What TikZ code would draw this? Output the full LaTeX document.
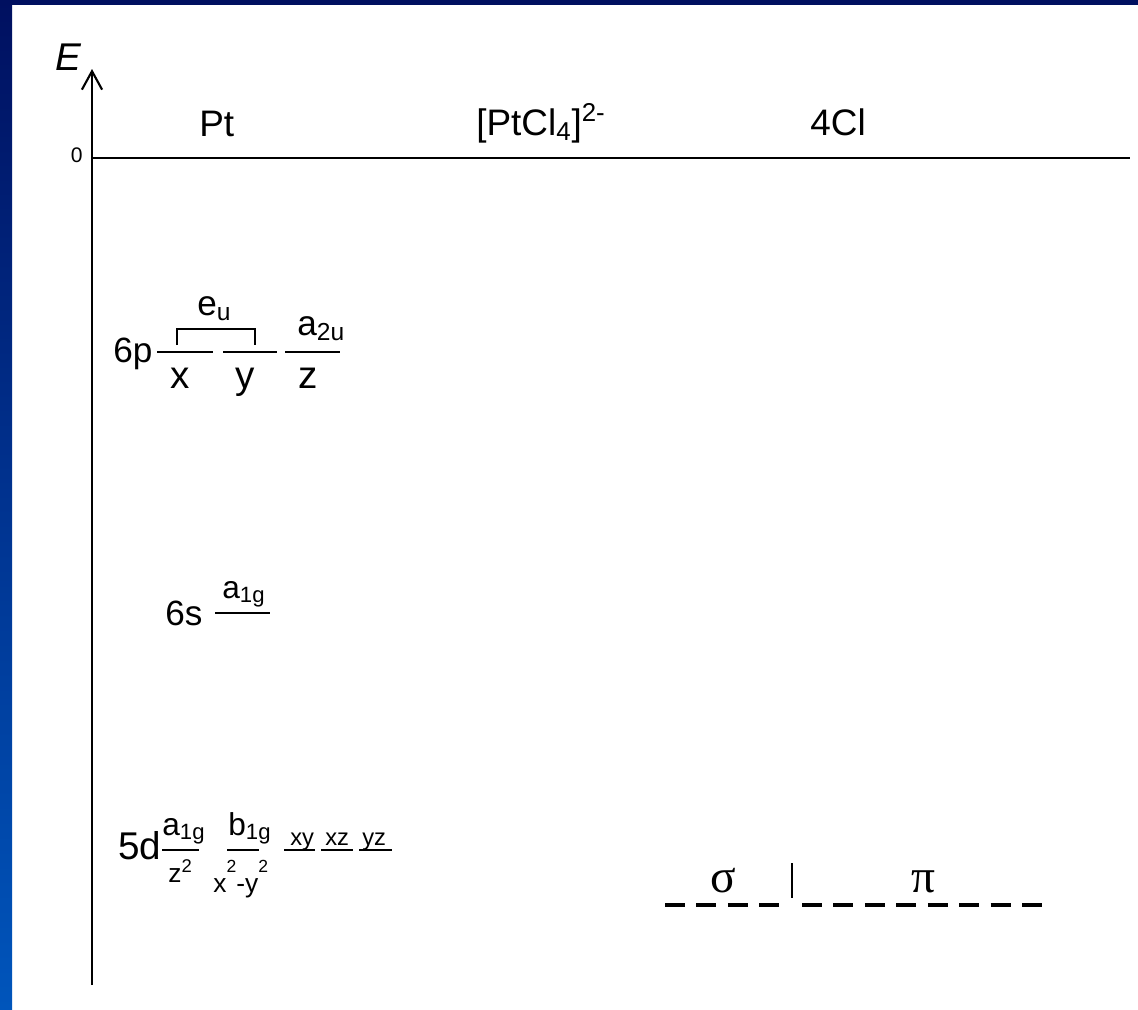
\documentclass[tikz,border=0pt]{standalone}
\usepackage{fontspec}
\setmainfont{Liberation Sans}
\newfontfamily\greekfont{Liberation Serif}
\usetikzlibrary{arrows.meta}
\definecolor{navy}{RGB}{0,16,96}
\definecolor{midblue}{RGB}{0,51,144}
\definecolor{lowblue}{RGB}{0,85,187}

\begin{document}
\begin{tikzpicture}[x=0.02cm, y=-0.02cm, every node/.style={inner sep=0pt, anchor=base west, font=\fontsize{20}{24}\selectfont},
  level/.style={line width=1.4pt},
  orb/.style={font=\fontsize{15}{17}\selectfont},
  small/.style={font=\fontsize{13.5}{16}\selectfont}]
  % Frame: white slide with blue edges
  \useasboundingbox (0,0) rectangle (1138,1009);
  \fill[white] (0,0) rectangle (1138,1009);
  \fill[navy] (0,0) rectangle (1138,5);
  \shade[top color=navy, bottom color=lowblue, middle color=midblue] (0,0) rectangle (12,1009);

  % Energy axis and zero line
  \coordinate (axisbot) at (92,985);
  \coordinate (axistop) at (92,69);
  \coordinate (zeroL) at (92,158);
  \coordinate (zeroR) at (1130,158);
  \draw[line width=1.2pt, -{Straight Barb[length=10.5pt, width=11.5pt]}] (axisbot) -- (axistop);
  \draw[line width=1.2pt] (zeroL) -- (zeroR);
  \node[font=\fontsize{22}{26}\selectfont\itshape] (E) at (55,70) {E};
  \node[anchor=base east, font=\fontsize{12}{14}\selectfont] (zero) at (83,162) {0};

  % Column titles
  \node[font=\fontsize{21}{25}\selectfont] (Pt) at (199,136) {Pt};
  \node[font=\fontsize{21}{25}\selectfont] (complex) at (476,135) {[PtCl\textsubscript{4}]\textsuperscript{2-}};
  \node[font=\fontsize{21}{25}\selectfont] (ligands) at (810,135) {4Cl};

  % 6p: e_u (x, y) and a_2u (z)
  \node (sixp) at (113,362) {6p};
  \draw[level] (157,352) -- (213,352);
  \draw[level] (223,352) -- (277,352);
  \draw[level] (285,352) -- (340,352);
  \draw[line width=0.9pt] (177,345) -- (177,329) -- (255,329) -- (255,345);
  \node (eu) at (197,315) {e\textsubscript{u}};
  \node (atwou) at (297,335) {a\textsubscript{2u}};
  \node[anchor=base, font=\fontsize{22}{26}\selectfont] (px) at (180,388) {x};
  \node[anchor=base, font=\fontsize{22}{26}\selectfont] (py) at (245,388) {y};
  \node[anchor=base, font=\fontsize{22}{26}\selectfont] (pz) at (308,388) {z};

  % 6s: a_1g
  \node (sixs) at (165,625) {6s};
  \draw[level] (215,613) -- (270,613);
  \node[font=\fontsize{18}{21}\selectfont] (sa) at (222,598) {a\textsubscript{1g}};

  % 5d: a_1g, b_1g, xy, xz, yz
  \node[font=\fontsize{22}{26}\selectfont] (fived) at (118,859) {5d};
  \draw[level] (162,850) -- (199,850);
  \draw[level] (227,850) -- (259,850);
  \draw[level] (284,850) -- (315,850);
  \draw[level] (321,850) -- (353,850);
  \draw[level] (359,850) -- (392,850);
  \node[font=\fontsize{18}{21}\selectfont] (da) at (162,835) {a\textsubscript{1g}};
  \node[font=\fontsize{18}{21}\selectfont] (db) at (228,835) {b\textsubscript{1g}};
  \node[orb] (dz) at (168,882) {z\textsuperscript{2}};
  \node[orb] (dxy2) at (213,892) {x\raisebox{0.75em}{\fontsize{10}{12}\selectfont 2}-y\raisebox{0.75em}{\fontsize{10}{12}\selectfont 2}};
  \node[small] (dxy) at (290,845) {xy};
  \node[small] (dxz) at (325,845) {xz};
  \node[small] (dyz) at (362,845) {yz};

  % 4Cl: sigma | pi
  \draw[line width=2pt, dash pattern=on 11.3pt off 6.6pt] (665,905) -- (782,905);
  \draw[line width=2pt, dash pattern=on 11.3pt off 6.6pt] (802,905) -- (1045,905);
  \draw[line width=1.2pt] (792,863) -- (792,898);
  \node[anchor=base, font=\greekfont\fontsize{27}{31}\selectfont] (sigma) at (723,892) {σ};
  \node[anchor=base, font=\greekfont\fontsize{27}{31}\selectfont] (pi) at (923,892) {π};
\end{tikzpicture}
\end{document}
